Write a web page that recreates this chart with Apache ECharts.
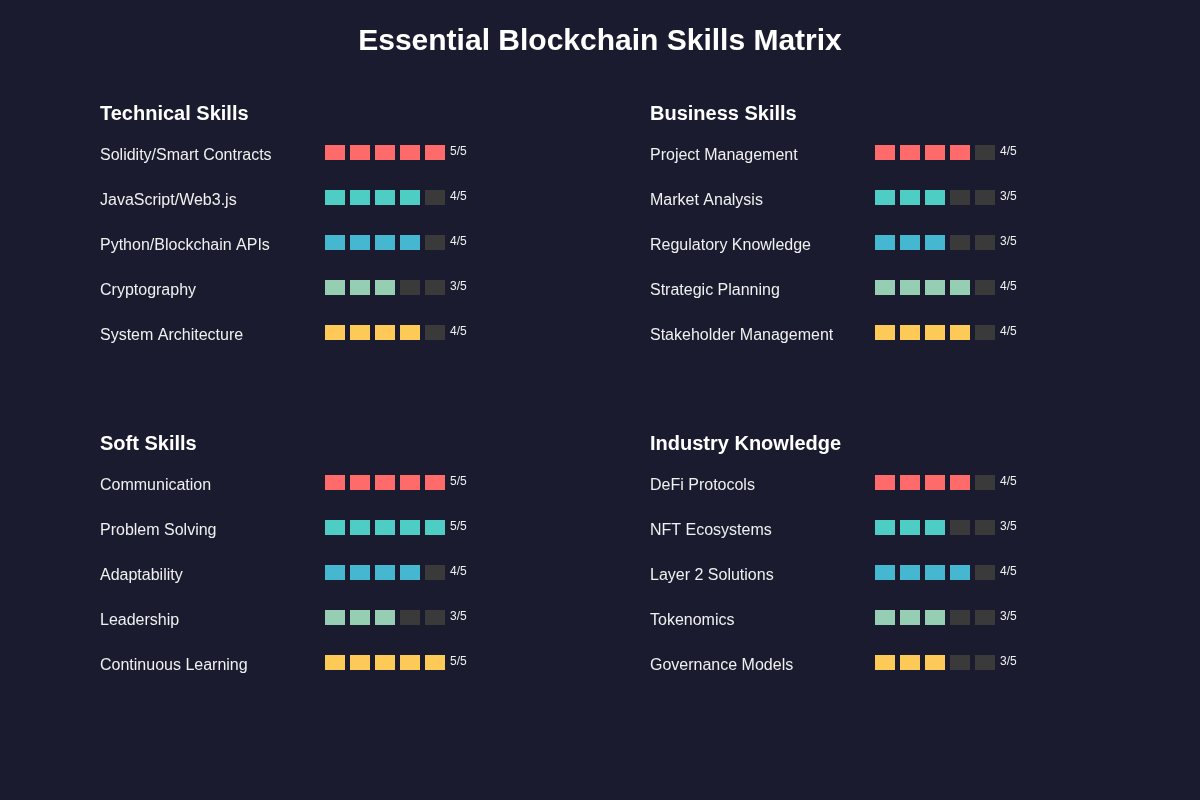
<!DOCTYPE html>
<html>
<head>
<meta charset="utf-8">
<style>
html,body{margin:0;padding:0;background:#1a1b2e;}
#chart{width:1200px;height:800px;}
</style>
<script src="https://cdn.jsdelivr.net/npm/echarts@6/dist/echarts.min.js"></script>
</head>
<body>
<div id="chart"></div>
<script>
const chartTitle = 'Essential Blockchain Skills Matrix';
const sectionTitles = ['Technical Skills', 'Business Skills', 'Soft Skills', 'Industry Knowledge'];
const technicalSkills = ['Solidity/Smart Contracts', 'JavaScript/Web3.js', 'Python/Blockchain APIs', 'Cryptography', 'System Architecture'];
const technicalLevels = [5, 4, 4, 3, 4];
const businessSkills = ['Project Management', 'Market Analysis', 'Regulatory Knowledge', 'Strategic Planning', 'Stakeholder Management'];
const businessLevels = [4, 3, 3, 4, 4];
const softSkills = ['Communication', 'Problem Solving', 'Adaptability', 'Leadership', 'Continuous Learning'];
const softLevels = [5, 5, 4, 3, 5];
const industrySkills = ['DeFi Protocols', 'NFT Ecosystems', 'Layer 2 Solutions', 'Tokenomics', 'Governance Models'];
const industryLevels = [4, 3, 4, 3, 3];
const maxLevel = 5;
const rowColors = ['#ff6b6b', '#4ecdc4', '#45b7d1', '#96ceb4', '#feca57'];
const emptyColor = '#3a3a3a';

const sections = [
  { skills: technicalSkills, levels: technicalLevels },
  { skills: businessSkills, levels: businessLevels },
  { skills: softSkills, levels: softLevels },
  { skills: industrySkills, levels: industryLevels }
];
// layout: [gridLeft, gridTop, titleLeft, titleTop]
const layout = [
  [335, 130, 100, 104],
  [885, 130, 650, 104],
  [335, 460, 100, 434],
  [885, 460, 650, 434]
];
const font = 'Liberation Sans, Arial, sans-serif';

const chart = echarts.init(document.getElementById('chart'), null, { renderer: 'canvas' });

const titles = [{
  text: chartTitle, left: 'center', top: 22,
  textStyle: { color: '#ffffff', fontSize: 30, fontWeight: 'bold', fontFamily: font }
}];
const grids = [], xAxes = [], yAxes = [], series = [];
sections.forEach((sec, s) => {
  const [gl, gt, tl, tt] = layout[s];
  titles.push({
    text: sectionTitles[s], left: tl, top: tt, padding: 0,
    textStyle: { color: '#ffffff', fontSize: 20, fontWeight: 'bold', fontFamily: font }
  });
  grids.push({ left: gl, top: gt, width: 100, height: 45 * sec.skills.length, containLabel: false });
  xAxes.push({ gridIndex: s, type: 'value', min: 0, max: maxLevel - 1, show: false });
  yAxes.push({
    gridIndex: s, type: 'category', data: sec.skills, inverse: true,
    axisLine: { show: false }, axisTick: { show: false }, splitLine: { show: false },
    axisLabel: {
      color: '#f0f0f0', fontSize: 16, fontFamily: font, align: 'left', margin: 235,
      verticalAlign: 'top', lineHeight: 7
    }
  });
  const data = [];
  sec.levels.forEach((lv, r) => {
    for (let k = 0; k < maxLevel; k++) {
      const item = {
        value: [k, r],
        itemStyle: { color: k < lv ? rowColors[r % rowColors.length] : emptyColor, opacity: 1 }
      };
      if (k === maxLevel - 1) {
        item.label = {
          show: true, position: 'right', distance: 5, offset: [0, -1],
          formatter: lv + '/' + maxLevel,
          color: '#f0f0f0', fontSize: 12, fontFamily: font
        };
      }
      data.push(item);
    }
  });
  series.push({
    type: 'scatter', xAxisIndex: s, yAxisIndex: s,
    symbol: 'rect', symbolSize: [20, 15],
    itemStyle: { opacity: 1 },
    data: data, silent: true, animation: false,
    emphasis: { disabled: true }
  });
});

chart.setOption({
  backgroundColor: '#1a1b2e',
  animation: false,
  title: titles,
  grid: grids,
  xAxis: xAxes,
  yAxis: yAxes,
  series: series
});
</script>
</body>
</html>
